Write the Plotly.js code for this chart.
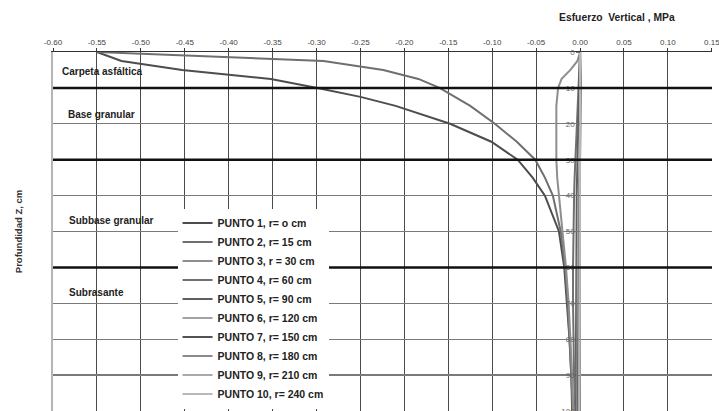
<!DOCTYPE html>
<html>
<head>
<meta charset="utf-8">
<script src="https://cdn.plot.ly/plotly-3.0.1.min.js"></script>
<style>html,body{margin:0;padding:0;background:#fff;}#chart{width:719px;height:411px;}</style>
</head>
<body>
<div id="chart"></div>
<script>
// Depth (cm)
var depth = [0, 2.5, 5, 7.5, 10, 12.5, 15, 20, 25, 30, 35, 40, 50, 60, 70, 80, 90, 100];
// Vertical stress (MPa) for each point
var punto1  = [-0.55, -0.522, -0.453, -0.352, -0.299, -0.25, -0.21, -0.148, -0.101, -0.071, -0.054, -0.040, -0.024, -0.018, -0.015, -0.012, -0.010, -0.009];
var punto2  = [-0.55, -0.292, -0.224, -0.184, -0.160, -0.142, -0.125, -0.097, -0.072, -0.051, -0.040, -0.031, -0.022, -0.017, -0.014, -0.012, -0.010, -0.008];
var punto3  = [0, -0.003, -0.011, -0.021, -0.025, -0.026, -0.027, -0.027, -0.027, -0.027, -0.026, -0.024, -0.020, -0.016, -0.013, -0.011, -0.009, -0.008];
var punto4  = [0, -0.0005, -0.001, -0.0015, -0.002, -0.0025, -0.003, -0.0035, -0.0045, -0.0055, -0.0062, -0.0068, -0.0075, -0.008, -0.008, -0.0078, -0.0068, -0.0055];
var punto5  = [0, -0.0003, -0.0006, -0.001, -0.0012, -0.0014, -0.0016, -0.002, -0.0025, -0.003, -0.0034, -0.0038, -0.0042, -0.0045, -0.0046, -0.0046, -0.0045, -0.0043];
var punto6  = [0, 0.0005, 0.0008, 0.0008, 0.0006, 0.0004, 0.0002, -0.0002, -0.0006, -0.001, -0.0014, -0.0017, -0.0022, -0.0026, -0.0028, -0.003, -0.003, -0.003];
var punto7  = [0, 0.0003, 0.0005, 0.0006, 0.0006, 0.0005, 0.0004, 0.0002, 0, -0.0003, -0.0005, -0.0008, -0.0012, -0.0015, -0.0018, -0.002, -0.0021, -0.0022];
var punto8  = [0, 0.0002, 0.0003, 0.0004, 0.0004, 0.0004, 0.0003, 0.0002, 0.0001, 0, -0.0002, -0.0004, -0.0007, -0.001, -0.0012, -0.0013, -0.0014, -0.0015];
var punto9  = [0, 0.0001, 0.0002, 0.0002, 0.0002, 0.0002, 0.0002, 0.0001, 0.0001, 0, -0.0001, -0.0002, -0.0004, -0.0006, -0.0007, -0.0008, -0.0009, -0.001];
var punto10 = [0, 0.0001, 0.0001, 0.0001, 0.0001, 0.0001, 0.0001, 0.0001, 0, 0, 0, -0.0001, -0.0002, -0.0003, -0.0004, -0.0005, -0.0005, -0.0006];

var seriesNames = ['PUNTO 1, r= o cm', 'PUNTO 2, r= 15 cm', 'PUNTO 3, r = 30 cm', 'PUNTO 4, r= 60 cm', 'PUNTO 5, r= 90 cm',
                   'PUNTO 6, r= 120 cm', 'PUNTO 7, r= 150 cm', 'PUNTO 8, r= 180 cm', 'PUNTO 9, r= 210 cm', 'PUNTO 10, r= 240 cm'];
var seriesValues = [punto1, punto2, punto3, punto4, punto5, punto6, punto7, punto8, punto9, punto10];
var seriesColors = ['#4d4d4d', '#6f6f6f', '#8e8e8e', '#707070', '#5e5e5e', '#a3a3a3', '#525252', '#8a8a8a', '#a9a9a9', '#b8b8b8'];

// Axis ticks
var xTickVals = [-0.60, -0.55, -0.50, -0.45, -0.40, -0.35, -0.30, -0.25, -0.20, -0.15, -0.10, -0.05, 0.00, 0.05, 0.10, 0.15];
var xTickText = ['-0.60', '-0.55', '-0.50', '-0.45', '-0.40', '-0.35', '-0.30', '-0.25', '-0.20', '-0.15', '-0.10', '-0.05', '0.00', '0.05', '0.10', '0.15'];
var yTickVals = [0, 10, 20, 30, 40, 50, 60, 70, 80, 90, 100];

// Layers
var layerBounds = [10, 30, 60];
var layerNames = ['Carpeta asfáltica', 'Base granular', 'Subbase granular', 'Subrasante'];
var layerLabelDepth = [5.3, 17.5, 47, 67];
var layerLabelX = [-0.5916, -0.5847, -0.5836, -0.5836];

var traces = seriesValues.map(function (vals, i) {
  return {
    x: vals, y: depth, type: 'scatter', mode: 'lines', name: seriesNames[i],
    // last series is bound to the overlay axis that carries the depth labels at x = 0
    yaxis: i === seriesValues.length - 1 ? 'y2' : 'y',
    line: {color: seriesColors[i], width: 2}, hoverinfo: 'x+y+name'
  };
});

var shapes = layerBounds.map(function (d) {
  return {type: 'line', xref: 'paper', x0: 0, x1: 1, yref: 'y', y0: d, y1: d,
          line: {color: '#111', width: 2.5}, layer: 'above'};
});

var annotations = layerNames.map(function (t, i) {
  return {text: t, x: layerLabelX[i], y: layerLabelDepth[i], xref: 'x', yref: 'y',
          xanchor: 'left', yanchor: 'middle', showarrow: false,
          font: {family: 'Liberation Sans, Arial, sans-serif', size: 10, color: '#222', weight: 700}};
});

var layout = {
  width: 719, height: 411,
  margin: {l: 53, r: 7, t: 52, b: 0, pad: 0},
  paper_bgcolor: '#fff', plot_bgcolor: '#fff',
  font: {family: 'Liberation Sans, Arial, sans-serif', color: '#333'},
  title: {text: 'Esfuerzo\u00a0 Vertical , MPa', x: 0.858, xanchor: 'center', xref: 'container',
          y: 1 - 17 / 411, yanchor: 'middle', yref: 'container',
          font: {size: 10.3, color: '#222', weight: 700}},
  xaxis: {
    side: 'top', range: [-0.6, 0.1502], tickvals: xTickVals, ticktext: xTickText,
    showgrid: true, gridcolor: '#4a4a4a', gridwidth: 1, zeroline: false,
    showline: true, linecolor: '#333', linewidth: 1,
    ticks: 'outside', ticklen: 3, tickcolor: '#333', ticklabeloverflow: 'allow',
    tickfont: {size: 8, color: '#444'}, fixedrange: true
  },
  yaxis: {
    range: [100, 0], tickvals: yTickVals, showticklabels: false,
    showgrid: true, gridcolor: '#7a7a7a', gridwidth: 1.3, zeroline: false,
    showline: true, linecolor: '#b5b5b5', linewidth: 2, ticks: '',
    title: {text: 'Profundidad Z, cm', standoff: 27, font: {size: 9.5, color: '#333', weight: 700}},
    fixedrange: true
  },
  yaxis2: {
    overlaying: 'y', anchor: 'free', position: 0.8, side: 'left',
    range: [100, 0], tickvals: yTickVals, showgrid: false, zeroline: false, showline: false,
    ticks: 'outside', ticklen: 4, tickcolor: '#777', ticklabeloverflow: 'allow',
    tickfont: {size: 8, color: '#666'}, fixedrange: true
  },
  legend: {
    x: 0.189, xanchor: 'left', y: 0.2855, yanchor: 'middle',
    bgcolor: '#fff', borderwidth: 0, itemwidth: 30, tracegroupgap: 0,
    font: {family: 'Liberation Sans, Arial, sans-serif', size: 10.5, color: '#222', weight: 700}
  },
  showlegend: true,
  shapes: shapes,
  annotations: annotations
};

Plotly.newPlot('chart', traces, layout, {displayModeBar: false, staticPlot: true});
</script>
</body>
</html>
